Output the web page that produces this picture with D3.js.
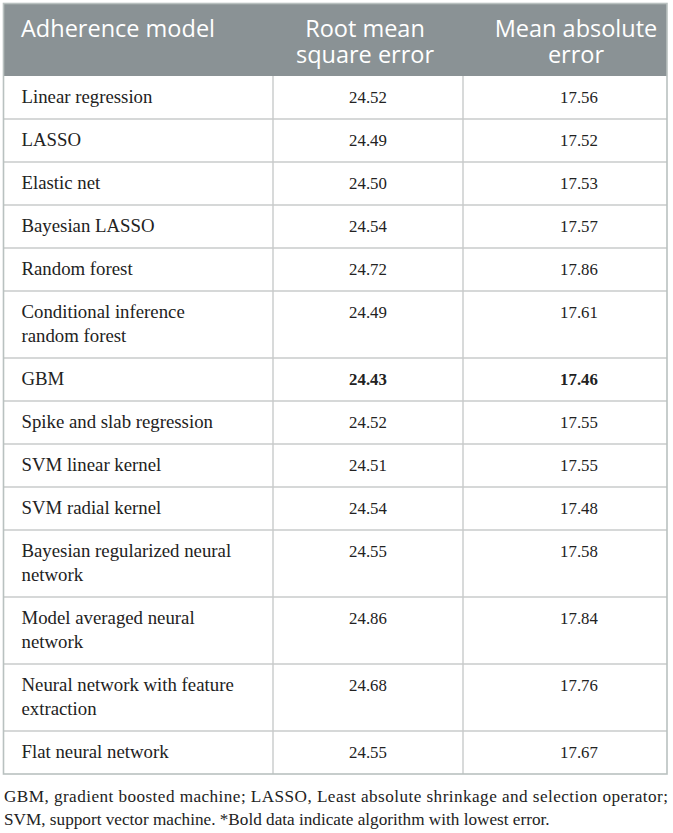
<!DOCTYPE html>
<html>
<head>
<meta charset="utf-8">
<script src="https://cdn.jsdelivr.net/npm/d3@7"></script>
<style>
  html, body { margin: 0; padding: 0; background: #ffffff; }
  svg { display: block; }
</style>
</head>
<body>
<div id="chart"></div>
<script>
// ---- data ----
const headers = [["Adherence model"], ["Root mean", "square error"], ["Mean absolute", "error"]];
const models = [
  ["Linear regression"],
  ["LASSO"],
  ["Elastic net"],
  ["Bayesian LASSO"],
  ["Random forest"],
  ["Conditional inference", "random forest"],
  ["GBM"],
  ["Spike and slab regression"],
  ["SVM linear kernel"],
  ["SVM radial kernel"],
  ["Bayesian regularized neural", "network"],
  ["Model averaged neural", "network"],
  ["Neural network with feature", "extraction"],
  ["Flat neural network"]
];
const rmse = [24.52, 24.49, 24.50, 24.54, 24.72, 24.49, 24.43, 24.52, 24.51, 24.54, 24.55, 24.86, 24.68, 24.55];
const mae  = [17.56, 17.52, 17.53, 17.57, 17.86, 17.61, 17.46, 17.55, 17.55, 17.48, 17.58, 17.84, 17.76, 17.67];
const footnote = [
  "GBM, gradient boosted machine; LASSO, Least absolute shrinkage and selection operator;",
  "SVM, support vector machine. *Bold data indicate algorithm with lowest error."
];

(function () {
// ---- layout ----
const W = 673, H = 833;
const xL = 3.5, xR = 667, yT = 3.5, headerBottom = 76;
const colX = [xL, 273, 463, xR];
const singleH = 43, extraLine = 24, lineH = 24;
const headerCenters = [null, 365, 576];
const dataCenters = [368, 579];

const svg = d3.select("#chart").append("svg").attr("width", W).attr("height", H);

// row boundaries
const rowH = models.map(m => singleH + (m.length - 1) * extraLine);
const bounds = [headerBottom];
rowH.forEach(h => bounds.push(bounds[bounds.length - 1] + h));
const tableBottom = bounds[bounds.length - 1];

const minR = d3.min(rmse), minM = d3.min(mae);

// header
svg.append("rect").attr("x", xL).attr("y", yT).attr("width", xR - xL).attr("height", headerBottom - yT)
  .attr("fill", "#8a9295");

headers.forEach((lines, c) => {
  const t = svg.append("text")
    .attr("font-family", "'Open Sans', sans-serif")
    .attr("font-size", 23.5)
    .attr("fill", "#ffffff")
    .attr("text-anchor", c === 0 ? "start" : "middle");
  const x = c === 0 ? 21 : headerCenters[c];
  lines.forEach((ln, i) => {
    t.append("tspan").attr("x", x).attr("y", 36.5 + i * 26.5).text(ln);
  });
});

// body grid
const grid = svg.append("g").attr("stroke", "#c8cbcb").attr("stroke-width", 1.4).attr("fill", "none");
bounds.slice(1, -1).forEach(y => {
  grid.append("line").attr("x1", xL).attr("x2", xR).attr("y1", y).attr("y2", y);
});
[colX[1], colX[2]].forEach(x => {
  grid.append("line").attr("x1", x).attr("x2", x).attr("y1", headerBottom).attr("y2", tableBottom);
});
// outer border
svg.append("rect").attr("x", xL).attr("y", yT).attr("width", xR - xL).attr("height", tableBottom - yT)
  .attr("fill", "none").attr("stroke", "#b9c1c0").attr("stroke-width", 1.6);

// body text
const serif = "'Liberation Serif', 'Times New Roman', serif";
const body = svg.append("g").attr("font-family", serif).attr("fill", "#222222");

models.forEach((m, r) => {
  const y0 = bounds[r], h = rowH[r];
  const firstBase = y0 + h / 2 - (m.length - 1) * lineH / 2 + 5.5;
  const t = body.append("text").attr("text-anchor", "start").attr("font-size", 18.8);
  m.forEach((ln, i) => t.append("tspan").attr("x", 21.5).attr("y", firstBase + i * lineH).text(ln));

  const vals = [rmse[r], mae[r]];
  const mins = [minR, minM];
  vals.forEach((v, k) => {
    body.append("text")
      .attr("x", dataCenters[k])
      .attr("y", firstBase)
      .attr("font-size", 16.8)
      .attr("text-anchor", "middle")
      .attr("font-weight", v === mins[k] ? "bold" : "normal")
      .text(d3.format(".2f")(v));
  });
});

// footnote
const fn = svg.append("g").attr("font-family", serif).attr("font-size", 17.2).attr("fill", "#222222");
fn.append("text").attr("x", 4).attr("y", tableBottom + 28).attr("textLength", 664).attr("lengthAdjust", "spacing").text(footnote[0]);
fn.append("text").attr("x", 4).attr("y", tableBottom + 51).text(footnote[1]);
})();
</script>
</body>
</html>
